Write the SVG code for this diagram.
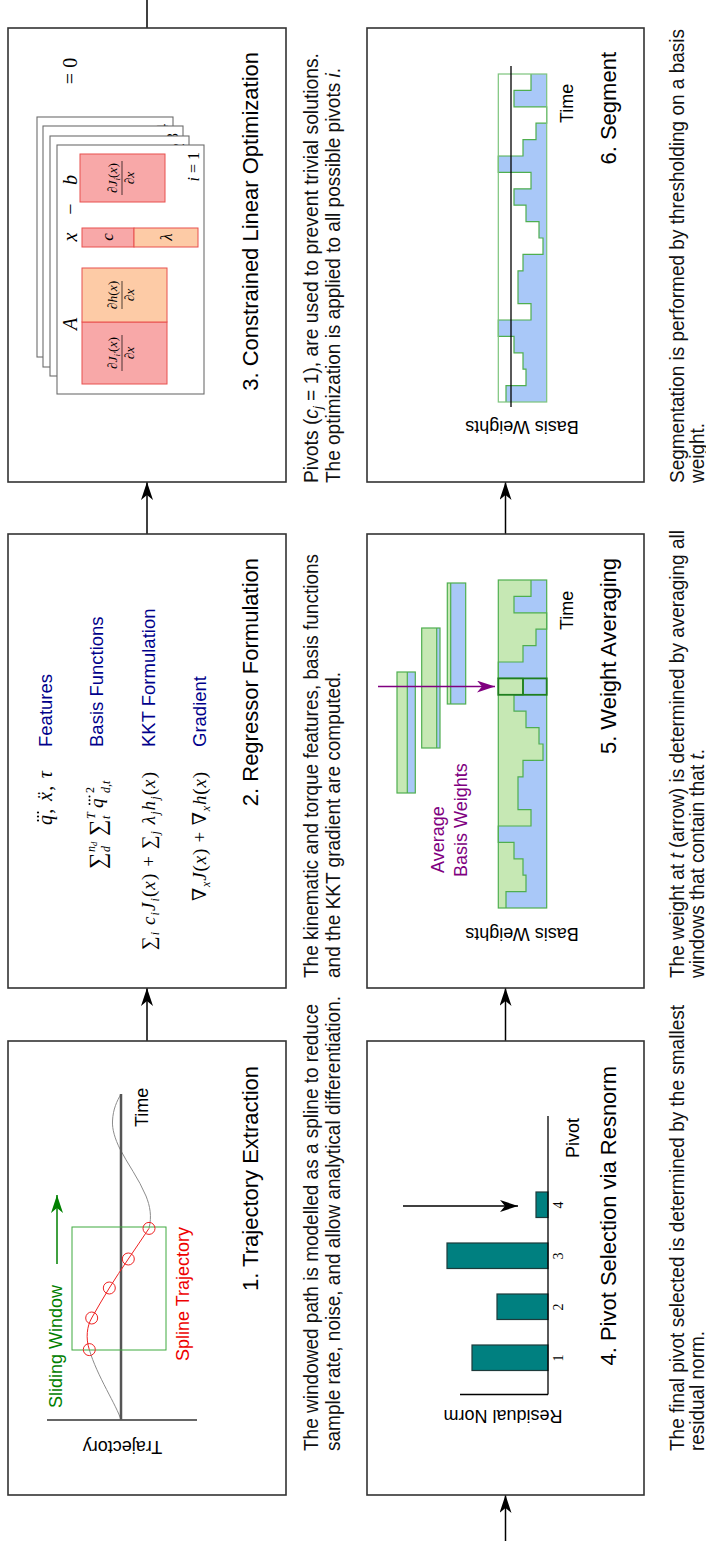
<svg xmlns="http://www.w3.org/2000/svg" width="706" height="1541" viewBox="0 0 706 1541">
<defs>
<style>
.box{fill:#fff;stroke:#333;stroke-width:1.6}
.conn{stroke:#000;stroke-width:1.5;fill:none}
.title{font-family:"Liberation Sans",Arial,sans-serif;font-size:22px;fill:#000;text-anchor:end}
.cap{font-family:"Liberation Sans Narrow","Liberation Sans",Arial,sans-serif;font-size:20px;fill:#111}
.lbl{font-family:"Liberation Sans",Arial,sans-serif;font-size:18px;fill:#000}
.navy{font-family:"Liberation Sans",Arial,sans-serif;font-size:18.5px;fill:#00008b}
.m{font-family:"Liberation Serif","DejaVu Serif",serif;font-style:normal;fill:#000}
.it{font-style:italic}
.pink{fill:#f8a8a8;stroke:#e8504f;stroke-width:1}
.peach{fill:#fdcba6;stroke:#e8504f;stroke-width:1}
.page{fill:#fff;stroke:#6d6d6d;stroke-width:1.1}
.gfill{fill:#c6e8b4}
.bfill{fill:#a9c8f8}
.gline{fill:none;stroke:#4fae4f;stroke-width:1.2}
.bar{fill:#008080;stroke:#1d3b3b;stroke-width:1.2}
.dot{fill:#000}
</style>
<marker id="ah" viewBox="0 0 18 12" refX="18" refY="6" markerWidth="18" markerHeight="12" markerUnits="userSpaceOnUse" orient="auto"><path d="M0,0 L18,6 L0,12 L5,6 Z" fill="#000"/></marker>
<marker id="ahg" viewBox="0 0 18 12" refX="18" refY="6" markerWidth="18" markerHeight="12" markerUnits="userSpaceOnUse" orient="auto"><path d="M0,0 L18,6 L0,12 L5,6 Z" fill="#008000"/></marker>
<marker id="ahp" viewBox="0 0 18 12" refX="18" refY="6" markerWidth="18" markerHeight="12" markerUnits="userSpaceOnUse" orient="auto"><path d="M0,0 L18,6 L0,12 L5,6 Z" fill="#800080"/></marker>
</defs>
<rect width="706" height="1541" fill="#fff"/>
<!-- whole figure is laid out landscape and turned a quarter turn -->
<g transform="translate(0,1541) rotate(-90)">

<g id="connectors" class="conn">
<line x1="500" y1="147" x2="553" y2="147" marker-end="url(#ah)"/>
<line x1="1007" y1="147" x2="1059" y2="147" marker-end="url(#ah)"/>
<line x1="1513" y1="147" x2="1541" y2="147"/>
<line x1="0" y1="505.5" x2="46" y2="505.5" marker-end="url(#ah)"/>
<line x1="500" y1="505.5" x2="553" y2="505.5" marker-end="url(#ah)"/>
<line x1="1007" y1="505.5" x2="1059" y2="505.5" marker-end="url(#ah)"/>
</g>

<!-- 1. Trajectory Extraction -->
<g id="panel1">
<rect class="box" x="46" y="8" width="454" height="278"/>
<line x1="121" y1="47" x2="121" y2="197" stroke="#333" stroke-width="1.5"/>
<path d="M121,121 C135,117 165,97 191.4,89.3" fill="none" stroke="#8c8c8c" stroke-width="1"/>
<path d="M312.6,149 C325,152 335,150 345,146 C362,139 378,127 392,120 C402,115 412,112 420,112.5 C432,113 440,117 447,121" fill="none" stroke="#8c8c8c" stroke-width="1"/>
<line x1="121" y1="121" x2="447" y2="121" stroke="#555" stroke-width="2.5"/>
<rect x="191" y="72" width="123" height="94" fill="none" stroke="#3faa3f" stroke-width="1"/>
<path d="M191.4,89.3 C203,85.5 215,87 223,91.7 C233,97.5 243,103 253,109.3 C263,115.5 272,121.5 282,128.3 C292,135 302,142 312.6,149" fill="none" stroke="#e22" stroke-width="1"/>
<g fill="none" stroke="#e22" stroke-width="1">
<circle cx="191.4" cy="89.3" r="6"/>
<circle cx="223" cy="91.7" r="6"/>
<circle cx="253" cy="109.3" r="6"/>
<circle cx="282" cy="128.3" r="6"/>
<circle cx="312.6" cy="149" r="6"/>
</g>
<line x1="277" y1="57" x2="346" y2="57" stroke="#008000" stroke-width="1.5" marker-end="url(#ahg)"/>
<text class="lbl" x="133" y="62" font-size="19" style="fill:#008000">Sliding Window</text>
<text class="lbl" x="180" y="189" font-size="19" style="fill:#e00">Spline Trajectory</text>
<text class="lbl" x="414" y="148">Time</text>
<text class="lbl" transform="translate(100,122.5) rotate(-90)" text-anchor="middle">Trajectory</text>
<text class="title" x="475" y="258">1. Trajectory Extraction</text>
<text class="cap" x="90" y="318" textLength="447" lengthAdjust="spacingAndGlyphs">The windowed path is modelled as a spline to reduce</text>
<text class="cap" x="90" y="340" textLength="455" lengthAdjust="spacingAndGlyphs">sample rate, noise, and allow analytical differentiation.</text>
</g>

<!-- 2. Regressor Formulation -->
<g id="panel2">
<rect class="box" x="553" y="8" width="454" height="278"/>
<!-- features row -->
<text class="m" x="716" y="52" font-size="20" textLength="54" lengthAdjust="spacing"><tspan class="it">q</tspan>, <tspan class="it">x&#x308;</tspan>, <tspan class="it">τ</tspan></text>
<circle class="dot" cx="720.5" cy="38" r="1.1"/><circle class="dot" cx="724.5" cy="38" r="1.1"/><circle class="dot" cx="728.5" cy="38" r="1.1"/>
<!-- basis functions row -->
<text class="m" x="672" y="105" font-size="23">∑</text>
<text class="m it" x="689" y="95" font-size="12">n<tspan font-size="8.5" dy="2">d</tspan></text>
<text class="m it" x="689" y="110" font-size="12">d</text>
<text class="m" x="705" y="105" font-size="23">∑</text>
<text class="m it" x="722" y="95" font-size="12">T</text>
<text class="m it" x="722" y="110" font-size="12">t</text>
<text class="m it" x="733" y="103" font-size="19">q</text>
<circle class="dot" cx="737" cy="89.5" r="1"/><circle class="dot" cx="740.7" cy="89.5" r="1"/><circle class="dot" cx="744.4" cy="89.5" r="1"/>
<text class="m" x="748" y="94" font-size="12">2</text>
<text class="m it" x="748" y="110" font-size="12">d,t</text>
<!-- KKT row -->
<text class="m" x="591" y="155" font-size="19" textLength="178" lengthAdjust="spacing">∑<tspan class="it" font-size="12" dy="4">i</tspan><tspan class="it" dy="-4"> c</tspan><tspan class="it" font-size="12" dy="4">i</tspan><tspan class="it" dy="-4">J</tspan><tspan class="it" font-size="12" dy="4">i</tspan><tspan dy="-4">(</tspan><tspan class="it">x</tspan>) + ∑<tspan class="it" font-size="12" dy="4">j</tspan><tspan class="it" dy="-4"> λ</tspan><tspan class="it" font-size="12" dy="4">j</tspan><tspan class="it" dy="-4">h</tspan><tspan class="it" font-size="12" dy="4">j</tspan><tspan dy="-4">(</tspan><tspan class="it">x</tspan>)</text>
<!-- gradient row -->
<text class="m" x="640" y="206" font-size="19" textLength="129" lengthAdjust="spacing">∇<tspan class="it" font-size="12" dy="4">x</tspan><tspan class="it" dy="-4">J</tspan>(<tspan class="it">x</tspan>) + ∇<tspan class="it" font-size="12" dy="4">x</tspan><tspan class="it" dy="-4">h</tspan>(<tspan class="it">x</tspan>)</text>
<text class="navy" x="794" y="52">Features</text>
<text class="navy" x="794" y="103">Basis Functions</text>
<text class="navy" x="794" y="155">KKT Formulation</text>
<text class="navy" x="794" y="206">Gradient</text>
<text class="title" x="983" y="258">2. Regressor Formulation</text>
<text class="cap" x="563" y="318" textLength="424" lengthAdjust="spacingAndGlyphs">The kinematic and torque features, basis functions</text>
<text class="cap" x="563" y="340" textLength="306" lengthAdjust="spacingAndGlyphs">and the KKT gradient are computed.</text>
</g>

<!-- 3. Constrained Linear Optimization -->
<g id="panel3">
<rect class="box" x="1059" y="8" width="454" height="278"/>
<rect class="page" x="1184" y="37" width="240" height="136"/>
<text class="m" x="1417" y="168" text-anchor="end" font-size="16"><tspan class="it">i</tspan> = 4</text>
<rect class="page" x="1174" y="43" width="241" height="140"/>
<text class="m" x="1408" y="178" text-anchor="end" font-size="16"><tspan class="it">i</tspan> = 3</text>
<rect class="page" x="1165" y="50" width="240" height="139"/>
<text class="m" x="1398" y="184" text-anchor="end" font-size="16"><tspan class="it">i</tspan> = 2</text>
<rect class="page" x="1147" y="57" width="249" height="147"/>
<text class="m" x="1389" y="199" text-anchor="end" font-size="16"><tspan class="it">i</tspan> = 1</text>
<rect class="pink" x="1157" y="82" width="62" height="85"/>
<rect class="peach" x="1219" y="82" width="54" height="85"/>
<rect class="pink" x="1294" y="82" width="19" height="52"/>
<rect class="peach" x="1294" y="134" width="19" height="64"/>
<rect class="pink" x="1339" y="80" width="48" height="85"/>
<g font-size="13.5">
<text class="m" x="1188" y="117" text-anchor="middle">∂<tspan class="it">J</tspan><tspan class="it" font-size="9" dy="3">i′</tspan><tspan dy="-3">(</tspan><tspan class="it">x</tspan>)</text>
<text class="m" x="1188" y="134" text-anchor="middle">∂<tspan class="it">x</tspan></text>
<text class="m" x="1246" y="117" text-anchor="middle">∂<tspan class="it">h</tspan>(<tspan class="it">x</tspan>)</text>
<text class="m" x="1246" y="134" text-anchor="middle">∂<tspan class="it">x</tspan></text>
<text class="m" x="1363" y="117" text-anchor="middle">∂<tspan class="it">J</tspan><tspan class="it" font-size="9" dy="3">i</tspan><tspan dy="-3">(</tspan><tspan class="it">x</tspan>)</text>
<text class="m" x="1363" y="134" text-anchor="middle">∂<tspan class="it">x</tspan></text>
</g>
<g stroke="#000" stroke-width="0.7">
<line x1="1170" y1="122" x2="1206" y2="122"/>
<line x1="1232" y1="122" x2="1260" y2="122"/>
<line x1="1346" y1="122" x2="1380" y2="122"/>
</g>
<text class="m it" x="1304" y="113" text-anchor="middle" font-size="17">c</text>
<text class="m it" x="1304" y="172" text-anchor="middle" font-size="17">λ</text>
<text class="m it" x="1217" y="77" text-anchor="middle" font-size="20">A</text>
<text class="m it" x="1304" y="77" text-anchor="middle" font-size="20">x</text>
<text class="m" x="1332" y="77" text-anchor="middle" font-size="20">−</text>
<text class="m it" x="1361" y="77" text-anchor="middle" font-size="20">b</text>
<text class="m" x="1470" y="77" text-anchor="middle" font-size="20">= 0</text>
<text class="title" x="1489" y="258">3. Constrained Linear Optimization</text>
<text class="cap" x="1058" y="318" textLength="430" lengthAdjust="spacingAndGlyphs">Pivots (<tspan font-style="italic">c</tspan><tspan font-style="italic" font-size="13" dy="4">j</tspan><tspan dy="-4"> = 1), are used to prevent trivial solutions.</tspan></text>
<text class="cap" x="1058" y="340" textLength="415" lengthAdjust="spacingAndGlyphs">The optimization is applied to all possible pivots <tspan font-style="italic">i</tspan>.</text>
</g>

<!-- 4. Pivot Selection via Resnorm -->
<g id="panel4">
<rect class="box" x="46" y="367" width="454" height="277"/>
<rect class="bar" x="170.5" y="472" width="25.5" height="76"/>
<rect class="bar" x="221.5" y="497" width="25.5" height="51"/>
<rect class="bar" x="272.5" y="447" width="25.5" height="101"/>
<rect class="bar" x="323.5" y="536" width="25.5" height="12"/>
<line x1="146.5" y1="460" x2="146.5" y2="548" stroke="#000" stroke-width="1.3"/>
<line x1="146.5" y1="548" x2="425" y2="548" stroke="#000" stroke-width="1.3"/>
<g class="m" font-size="14" text-anchor="middle">
<text x="183" y="563">1</text>
<text x="234" y="563">2</text>
<text x="285" y="563">3</text>
<text x="336" y="563">4</text>
</g>
<line x1="335" y1="403" x2="335" y2="518" stroke="#000" stroke-width="1.3" marker-end="url(#ah)"/>
<text class="lbl" x="403" y="579" text-anchor="middle">Pivot</text>
<text class="lbl" transform="translate(131,503) rotate(-90)" text-anchor="middle">Residual Norm</text>
<text class="title" x="475" y="616">4. Pivot Selection via Resnorm</text>
<text class="cap" x="90" y="684" textLength="446" lengthAdjust="spacingAndGlyphs">The final pivot selected is determined by the smallest</text>
<text class="cap" x="90" y="704" textLength="120" lengthAdjust="spacingAndGlyphs">residual norm.</text>
</g>

<!-- 5. Weight Averaging -->
<g id="panel5">
<rect class="box" x="553" y="367" width="454" height="277"/>
<rect class="gfill" x="748" y="397" width="121" height="18.3"/>
<rect class="bfill" x="748" y="407.3" width="121" height="8"/>
<rect class="gline" x="748" y="397" width="121" height="18.3"/>
<line class="gline" x1="748" y1="407.3" x2="869" y2="407.3"/>
<rect class="gfill" x="793" y="421.7" width="120" height="18.3"/>
<rect class="bfill" x="793" y="436.7" width="120" height="3.3"/>
<rect class="gline" x="793" y="421.7" width="120" height="18.3"/>
<line class="gline" x1="793" y1="436.7" x2="913" y2="436.7"/>
<rect class="gfill" x="837" y="447.3" width="121" height="18.4"/>
<rect class="bfill" x="837" y="450.7" width="121" height="15"/>
<rect class="gline" x="837" y="447.3" width="121" height="18.4"/>
<line class="gline" x1="837" y1="450.7" x2="958" y2="450.7"/>
<rect class="gfill" x="633" y="498.3" width="328" height="48.4"/>
<path class="bfill" d="M633,546.7 V506 H649.4 V526 H665.8 V523 H682.2 V514 H698.6 V498.3 H715 V531 H731.4 V518 H764.2 V523 H780.6 V543 H797 V539 H813.4 V526 H829.8 V514 H846.2 V523 H862.6 V498.3 H879 V523 H895.4 V536 H911.8 V546.7 H928.2 V514 H944.6 V531 H961 V546.7 Z"/>
<path class="gline" d="M633,506 H649.4 V526 H665.8 V523 H682.2 V514 H698.6 V498.3 H715 V531 H731.4 V518 H764.2 V523 H780.6 V543 H797 V539 H813.4 V526 H829.8 V514 H846.2 V523 H862.6 V498.3 H879 V523 H895.4 V536 H911.8 V546.7 H928.2 V514 H944.6 V531 H961"/>
<rect class="gline" x="633" y="498.3" width="328" height="48.4"/>
<rect x="846.2" y="498.3" width="16.4" height="48.4" fill="none" stroke="#1f7f1f" stroke-width="1.8"/>
<line x1="846.2" y1="523" x2="862.6" y2="523" stroke="#1f7f1f" stroke-width="1.8"/>
<line x1="854.4" y1="378" x2="854.4" y2="495" stroke="#800080" stroke-width="1.5" marker-end="url(#ahp)"/>
<text class="lbl" x="668" y="444" style="fill:#800080">Average</text>
<text class="lbl" x="664" y="467" style="fill:#800080">Basis Weights</text>
<text class="lbl" x="911" y="573">Time</text>
<text class="lbl" transform="translate(613,522) rotate(-90)" text-anchor="middle">Basis Weights</text>
<text class="title" x="983" y="616">5. Weight Averaging</text>
<text class="cap" x="563" y="684" textLength="448" lengthAdjust="spacingAndGlyphs">The weight at <tspan font-style="italic">t</tspan> (arrow) is determined by averaging all</text>
<text class="cap" x="563" y="704" textLength="229" lengthAdjust="spacingAndGlyphs">windows that contain that <tspan font-style="italic">t</tspan>.</text>
</g>

<!-- 6. Segment -->
<g id="panel6">
<rect class="box" x="1059" y="367" width="454" height="277"/>
<g transform="translate(506,0)">
<rect x="633" y="498.3" width="328" height="48.4" fill="#fff"/>
<path class="bfill" d="M633,546.7 V506 H649.4 V526 H665.8 V523 H682.2 V514 H698.6 V498.3 H715 V531 H731.4 V518 H764.2 V523 H780.6 V543 H797 V539 H813.4 V526 H829.8 V514 H846.2 V531 H862.6 V498.3 H879 V523 H895.4 V536 H911.8 V546.7 H928.2 V514 H944.6 V531 H961 V546.7 Z"/>
<path class="gline" d="M633,506 H649.4 V526 H665.8 V523 H682.2 V514 H698.6 V498.3 H715 V531 H731.4 V518 H764.2 V523 H780.6 V543 H797 V539 H813.4 V526 H829.8 V514 H846.2 V531 H862.6 V498.3 H879 V523 H895.4 V536 H911.8 V546.7 H928.2 V514 H944.6 V531 H961"/>
<rect x="633" y="498.3" width="328" height="48.4" fill="none" stroke="#7cc47c" stroke-width="1.2"/>
<line x1="628" y1="511" x2="969" y2="511" stroke="#000" stroke-width="1.3"/>
</g>
<text class="lbl" x="1418" y="573">Time</text>
<text class="lbl" transform="translate(1120,522) rotate(-90)" text-anchor="middle">Basis Weights</text>
<text class="title" x="1489" y="616">6. Segment</text>
<text class="cap" x="1058" y="684" textLength="454" lengthAdjust="spacingAndGlyphs">Segmentation is performed by thresholding on a basis</text>
<text class="cap" x="1058" y="704" textLength="60" lengthAdjust="spacingAndGlyphs">weight.</text>
</g>

</g>
</svg>
